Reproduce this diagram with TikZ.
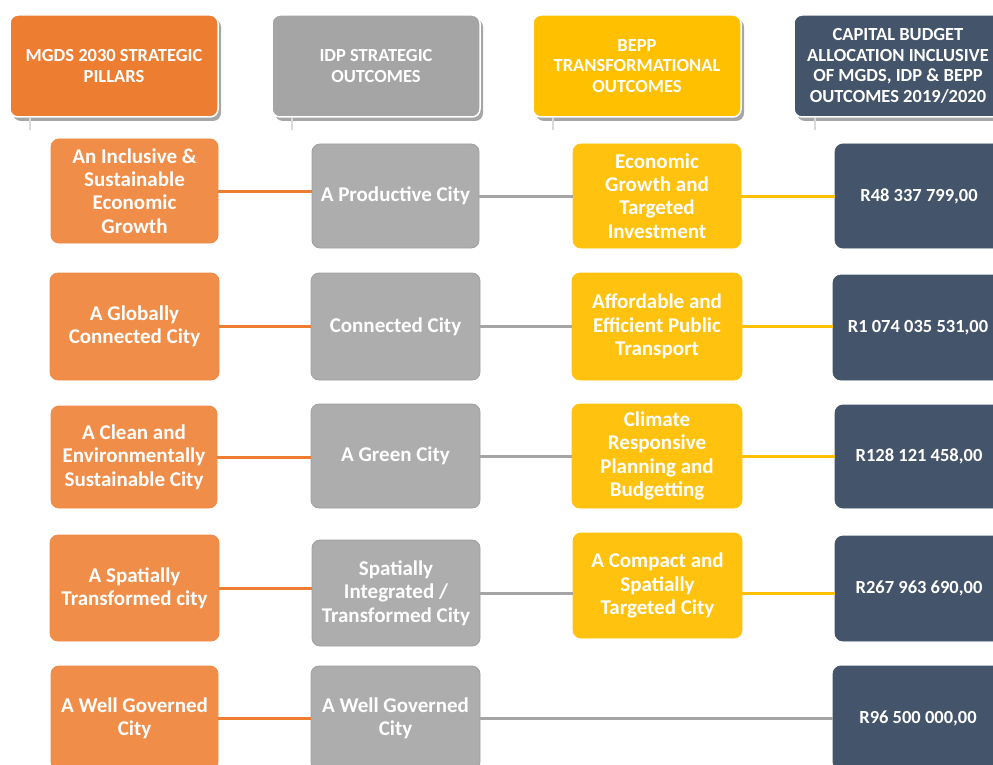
\documentclass[tikz,border=0pt]{standalone}
\usepackage{fontspec}
\setmainfont{Carlito}
\usetikzlibrary{shadows}
\definecolor{hOrange}{HTML}{ED7D31}
\definecolor{hGray}{HTML}{A5A5A5}
\definecolor{hYellow}{HTML}{FFC000}
\definecolor{hDark}{HTML}{44546A}
\definecolor{rOrange}{HTML}{F08D49}
\definecolor{rGray}{HTML}{ADADAD}
\definecolor{rYellow}{HTML}{FFC20E}
\definecolor{stubGray}{HTML}{D9D9D9}
\begin{document}
\begin{tikzpicture}[x=1pt,y=-1pt,
  header/.style={rounded corners=8pt, draw=white, line width=1.5pt, text=white,
    font=\bfseries\fontsize{18.5}{20.5}\selectfont, align=center,
    minimum width=208pt, minimum height=102pt, inner sep=1pt,
    drop shadow={shadow xshift=3pt, shadow yshift=-4pt, opacity=0.35, fill=black}},
  rowbox/.style={rounded corners=8pt, text=white, line width=0.8pt,
    font=\bfseries\fontsize{21}{23.3}\selectfont, align=center, inner sep=1pt},
  obox/.style={rowbox, fill=rOrange, draw=rOrange!90!hOrange},
  gbox/.style={rowbox, fill=rGray, draw=rGray!92!black},
  ybox/.style={rowbox, fill=rYellow, draw=rYellow},
  dbox/.style={rowbox, fill=hDark, draw=hDark, font=\bfseries\fontsize{18.5}{20}\selectfont},
  oline/.style={draw=hOrange, line width=3pt},
  gline/.style={draw=hGray, line width=3pt},
  yline/.style={draw=hYellow, line width=3pt},
  stub/.style={draw=stubGray, line width=2pt}
]
\useasboundingbox (0,0) rectangle (993,765);
\clip (0,0) rectangle (993,765);

% headers
\node[header, fill=hOrange] (h1) at (114,66) {MGDS 2030 STRATEGIC\\PILLARS};
\node[header, fill=hGray] (h2) at (376,66) {IDP STRATEGIC\\OUTCOMES};
\node[header, fill=hYellow] (h3) at (637,66) {BEPP\\TRANSFORMATIONAL\\OUTCOMES};
\node[header, fill=hDark] (h4) at (898,66) {CAPITAL BUDGET\\ALLOCATION INCLUSIVE\\OF MGDS, IDP \& BEPP\\OUTCOMES 2019/2020};

\coordinate (s1) at (30,130);
\coordinate (s2) at (292,130);
\coordinate (s3) at (553,130);
\coordinate (s4) at (815,130);
\draw[stub] (h1.south -| s1) -- (s1);
\draw[stub] (h2.south -| s2) -- (s2);
\draw[stub] (h3.south -| s3) -- (s3);
\draw[stub] (h4.south -| s4) -- (s4);

% row 1
\node[obox, minimum width=167pt, minimum height=104pt] (o1) at (134.5,191) {An Inclusive \&\\Sustainable\\Economic\\Growth};
\node[gbox, minimum width=167pt, minimum height=104pt] (g1) at (395.5,196) {A Productive City};
\node[ybox, minimum width=168pt, minimum height=104pt] (y1) at (657,196) {Economic\\Growth and\\Targeted\\Investment};
\node[dbox, minimum width=168pt, minimum height=104pt] (d1) at (919,196) {R48 337 799,00};

% row 2
\node[obox, minimum width=169pt, minimum height=107pt] (o2) at (134.5,326.5) {A Globally\\Connected City};
\node[gbox, minimum width=169pt, minimum height=107pt] (g2) at (395.5,326.5) {Connected City};
\node[ybox, minimum width=170pt, minimum height=107pt] (y2) at (657,326.5) {Affordable and\\Efficient Public\\Transport};
\node[dbox, minimum width=170pt, minimum height=105pt] (d2) at (918,327.5) {R1 074 035 531,00};

% row 3
\node[obox, minimum width=166pt, minimum height=102pt] (o3) at (134,457) {A Clean and\\Environmentally\\Sustainable City};
\node[gbox, minimum width=169pt, minimum height=104pt] (g3) at (395.5,456) {A Green City};
\node[ybox, minimum width=170pt, minimum height=104pt] (y3) at (657,456) {Climate\\Responsive\\Planning and\\Budgetting};
\node[dbox, minimum width=168pt, minimum height=103pt] (d3) at (919,456.5) {R128 121 458,00};

% row 4
\node[obox, minimum width=169pt, minimum height=106pt] (o4) at (134.5,588) {A Spatially\\Transformed city};
\node[gbox, minimum width=168pt, minimum height=106pt] (g4) at (396,593) {Spatially\\Integrated /\\Transformed City};
\node[ybox, minimum width=169pt, minimum height=105pt] (y4) at (657.5,585.5) {A Compact and\\Spatially\\Targeted City};
\node[dbox, minimum width=168pt, minimum height=105pt] (d4) at (919,588.5) {R267 963 690,00};

% row 5
\node[obox, minimum width=167pt, minimum height=104pt] (o5) at (134.5,718) {A Well Governed\\City};
\node[gbox, minimum width=169pt, minimum height=104pt] (g5) at (395.5,718) {A Well Governed\\City};
\node[dbox, minimum width=170pt, minimum height=104pt] (d5) at (918,718) {R96 500 000,00};

% connectors
\draw[oline] (o1.east) -- (o1.east -| g1.west);
\draw[gline] (g1.east) -- (g1.east -| y1.west);
\draw[yline] (y1.east) -- (y1.east -| d1.west);

\draw[oline] (o2.east) -- (o2.east -| g2.west);
\draw[gline] (g2.east) -- (g2.east -| y2.west);
\draw[yline] (y2.east) -- (y2.east -| d2.west);

\draw[oline] (o3.east) -- (o3.east -| g3.west);
\draw[gline] (g3.east) -- (g3.east -| y3.west);
\draw[yline] (y3.east) -- (y3.east -| d3.west);

\draw[oline] (o4.east) -- (o4.east -| g4.west);
\draw[gline] (g4.east) -- (g4.east -| y4.west);
\draw[yline] (y4.east |- g4.east) -- (d4.west |- g4.east);

\draw[oline] (o5.east) -- (o5.east -| g5.west);
\draw[gline] (g5.east) -- (g5.east -| d5.west);
\end{tikzpicture}
\end{document}
